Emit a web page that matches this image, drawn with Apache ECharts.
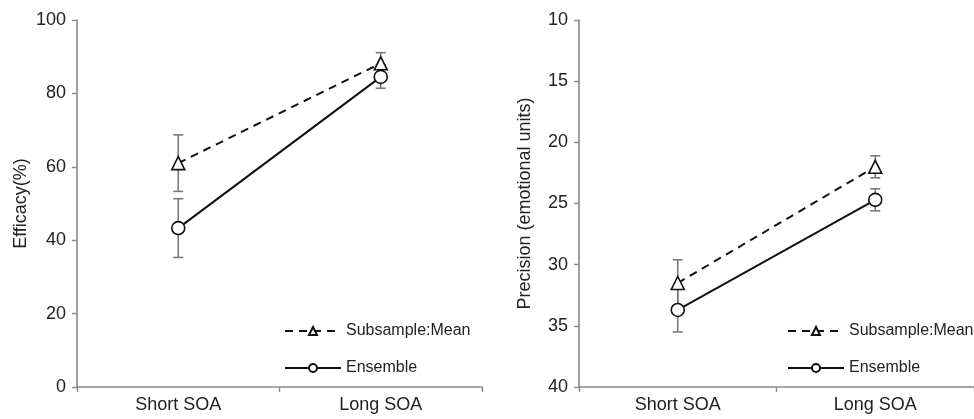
<!DOCTYPE html>
<html>
<head>
<meta charset="utf-8">
<script src="https://cdn.jsdelivr.net/npm/echarts@6/dist/echarts.min.js"></script>
<style>
  html, body { margin: 0; padding: 0; background: #fff; }
  #chart { width: 974px; height: 419px; }
</style>
</head>
<body>
<div id="chart"></div>
<script>
// categories and values
const categories = ["Short SOA", "Long SOA"];
const seriesNames = ["Subsample:Mean", "Ensemble"];

const efficacySub = [61.0, 88.2];
const efficacySubErr = [7.7, 2.9];
const efficacyEns = [43.3, 84.5];
const efficacyEnsErr = [8.0, 3.1];

const precisionSub = [31.5, 22.0];
const precisionSubErr = [1.9, 0.9];
const precisionEns = [33.7, 24.7];
const precisionEnsErr = [1.8, 0.9];

const axisGray = "#8a8a8a";
const textColor = "#222";
const font = "Liberation Sans, Arial, sans-serif";

function errData(vals, errs) {
  return vals.map((v, i) => [i, v - errs[i], v + errs[i]]);
}

function errorSeries(idx, vals, errs) {
  return {
    type: "custom",
    xAxisIndex: idx,
    yAxisIndex: idx,
    z: 1,
    silent: true,
    encode: { x: 0, y: [1, 2] },
    data: errData(vals, errs),
    renderItem: function (params, api) {
      const lo = api.coord([api.value(0), api.value(1)]);
      const hi = api.coord([api.value(0), api.value(2)]);
      const cap = 5;
      const style = { stroke: "#7a7a7a", lineWidth: 1.6 };
      return {
        type: "group",
        children: [
          { type: "line", shape: { x1: lo[0], y1: lo[1], x2: hi[0], y2: hi[1] }, style: style },
          { type: "line", shape: { x1: lo[0] - cap, y1: lo[1], x2: lo[0] + cap, y2: lo[1] }, style: style },
          { type: "line", shape: { x1: hi[0] - cap, y1: hi[1], x2: hi[0] + cap, y2: hi[1] }, style: style },
        ],
      };
    },
  };
}

function subSeries(idx, vals) {
  return {
    name: seriesNames[0],
    type: "line",
    xAxisIndex: idx,
    yAxisIndex: idx,
    z: 3,
    data: vals,
    symbol: "triangle",
    symbolSize: 13,
    itemStyle: { color: "#fff", borderColor: "#111", borderWidth: 1.6 },
    lineStyle: { color: "#111", width: 2, type: [8, 6] },
  };
}

function ensSeries(idx, vals) {
  return {
    name: seriesNames[1],
    type: "line",
    xAxisIndex: idx,
    yAxisIndex: idx,
    z: 3,
    data: vals,
    symbol: "circle",
    symbolSize: 13,
    itemStyle: { color: "#fff", borderColor: "#111", borderWidth: 1.6 },
    lineStyle: { color: "#111", width: 2 },
  };
}

function xAxis(idx) {
  return {
    type: "category",
    gridIndex: idx,
    data: categories,
    boundaryGap: true,
    axisLine: { lineStyle: { color: axisGray, width: 1.6 } },
    axisTick: { show: true, length: 5, lineStyle: { color: axisGray, width: 1.4 } },
    axisLabel: { color: textColor, fontSize: 18, fontFamily: font, margin: 9 },
    splitLine: { show: false },
  };
}

function yAxis(idx, opts) {
  return Object.assign({
    type: "value",
    gridIndex: idx,
    nameLocation: "middle",
    nameTextStyle: { color: textColor, fontSize: 18, fontFamily: font },
    axisLine: { show: true, lineStyle: { color: axisGray, width: 1.6 } },
    axisTick: { show: true, length: 5, lineStyle: { color: axisGray, width: 1.4 } },
    axisLabel: { color: textColor, fontSize: 18, fontFamily: font, margin: 11 },
    splitLine: { show: false },
  }, opts);
}

function legend(left) {
  return {
    data: seriesNames,
    orient: "vertical",
    left: left,
    top: 317,
    itemWidth: 56,
    itemHeight: 10,
    itemGap: 19,
    selectedMode: false,
    textStyle: { color: textColor, fontSize: 16, fontFamily: font, lineHeight: 18 },
  };
}

const chart = echarts.init(document.getElementById("chart"), null, { renderer: "canvas" });

const option = {
  backgroundColor: "#fff",
  animation: false,
  legend: [legend(279), legend(782)],
  grid: [
    { left: 77, top: 20, width: 405, height: 367 },
    { left: 579, top: 20, width: 405, height: 367 },
  ],
  xAxis: [xAxis(0), xAxis(1)],
  yAxis: [
    yAxis(0, { name: "Efficacy(%)", nameGap: 47, min: 0, max: 100, interval: 20 }),
    yAxis(1, { name: "Precision (emotional units)", nameGap: 45, min: 10, max: 40, interval: 5, inverse: true }),
  ],
  series: [
    errorSeries(0, efficacySub, efficacySubErr),
    errorSeries(0, efficacyEns, efficacyEnsErr),
    subSeries(0, efficacySub),
    ensSeries(0, efficacyEns),
    errorSeries(1, precisionSub, precisionSubErr),
    errorSeries(1, precisionEns, precisionEnsErr),
    subSeries(1, precisionSub),
    ensSeries(1, precisionEns),
  ],
};

chart.setOption(option);
</script>
</body>
</html>
